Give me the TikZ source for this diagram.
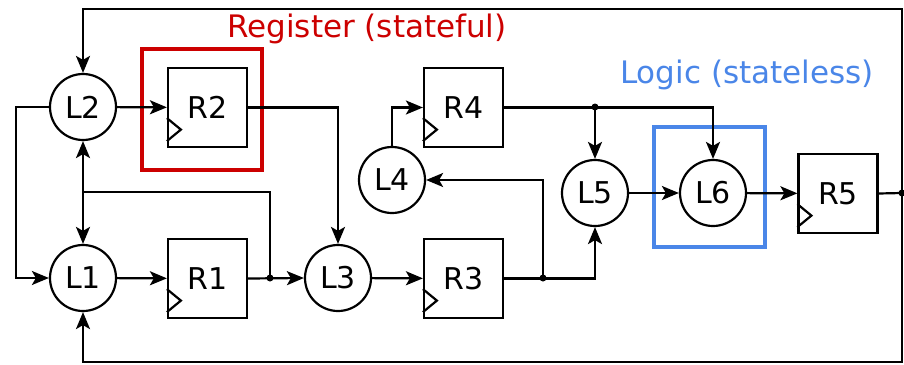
\documentclass[tikz,border=0pt]{standalone}
\usepackage{fontspec}
\setmainfont{DejaVu Sans}
\usetikzlibrary{arrows.meta,calc}
\definecolor{regred}{HTML}{CC0000}
\definecolor{logblue}{HTML}{4A86E8}
\tikzset{
  wire/.style={line width=2.2pt,black},
  arr/.style={wire,-{Stealth[length=17pt,width=14pt,inset=4pt]}},
  logicnode/.style={circle,draw,line width=2.2pt,minimum size=66pt,inner sep=0pt,font=\fontsize{30}{30}\selectfont},
  regnode/.style={rectangle,draw,line width=2.2pt,minimum width=79pt,minimum height=79pt,inner sep=0pt,font=\fontsize{30}{30}\selectfont},
  dot/.style={circle,fill=black,inner sep=0pt,minimum size=7pt},
  titletext/.style={font=\fontsize{31}{31}\selectfont,anchor=base,inner sep=0pt},
}
\newcommand{\clocktri}[1]{\draw[wire,line join=miter] ($(#1.south west)+(0,-30)$) -- ($(#1.south west)+(14,-18.5)$) -- ($(#1.south west)+(0,-7)$);}
\begin{document}
\begin{tikzpicture}[x=1pt,y=-1pt]
\useasboundingbox (0,0) rectangle (904,364);
% highlight boxes
\draw[regred,line width=4pt] (142,49) rectangle (262,170);
\draw[logblue,line width=4pt] (654,127) rectangle (765,247);
% nodes
\node[logicnode] (L2) at (83,107) {L2};
\node[logicnode] (L1) at (83,278) {L1};
\node[logicnode] (L3) at (338,278) {L3};
\node[logicnode] (L4) at (392,180) {L4};
\node[logicnode] (L5) at (595,193) {L5};
\node[logicnode] (L6) at (713,193) {L6};
\node[regnode] (R2) at (207.5,107.5) {R2};
\node[regnode] (R1) at (207.5,278.5) {R1};
\node[regnode] (R4) at (463.5,107.5) {R4};
\node[regnode] (R3) at (463.5,278.5) {R3};
\node[regnode] (R5) at (838,193.5) {R5};
\clocktri{R1}\clocktri{R2}\clocktri{R3}\clocktri{R4}\clocktri{R5}
% junctions
\node[dot] (j1) at (270,278) {};
\node[dot] (j3) at (543,278) {};
\node[dot] (j4) at (595,107) {};
\node[dot] (j5) at (902,193) {};
\coordinate (j0) at (83,192);
\coordinate (tr) at (902,9);
\coordinate (br) at (902,362);
\coordinate (ll) at (16,107);
% connectors
\draw[arr] (L2) -- (R2);
\draw[arr] (L2.west) -- (ll) |- (L1.west);
\draw[arr] (L1) -- (R1);
\draw[arr] (R1.east) -- (L3.west);
\draw[wire] (j1.center) |- (j0);
\draw[arr] (j0) -- (L2.south);
\draw[arr] (j0) -- (L1.north);
\draw[arr] (R2.east) -| (L3.north);
\draw[arr] (L3) -- (R3);
\draw[arr] (R3.east) -| (L5.south);
\draw[arr] (j3.center) |- (L4.east);
\draw[arr] (L4.north) |- (R4.west);
\draw[arr] (R4.east) -| (L6.north);
\draw[arr] (j4.center) -- (L5.north);
\draw[arr] (L5) -- (L6);
\draw[arr] (L6) -- (R5);
\draw[wire] (R5.east) -- (j5.center);
\draw[arr] (j5.center) -- (tr) -| (L2.north);
\draw[arr] (j5.center) -- (br) -| (L1.south);
% titles
\node[titletext,text=regred] (treg) at (367,37) {Register (stateful)};
\node[titletext,text=logblue] (tlog) at (747,83) {Logic (stateless)};
\end{tikzpicture}
\end{document}
